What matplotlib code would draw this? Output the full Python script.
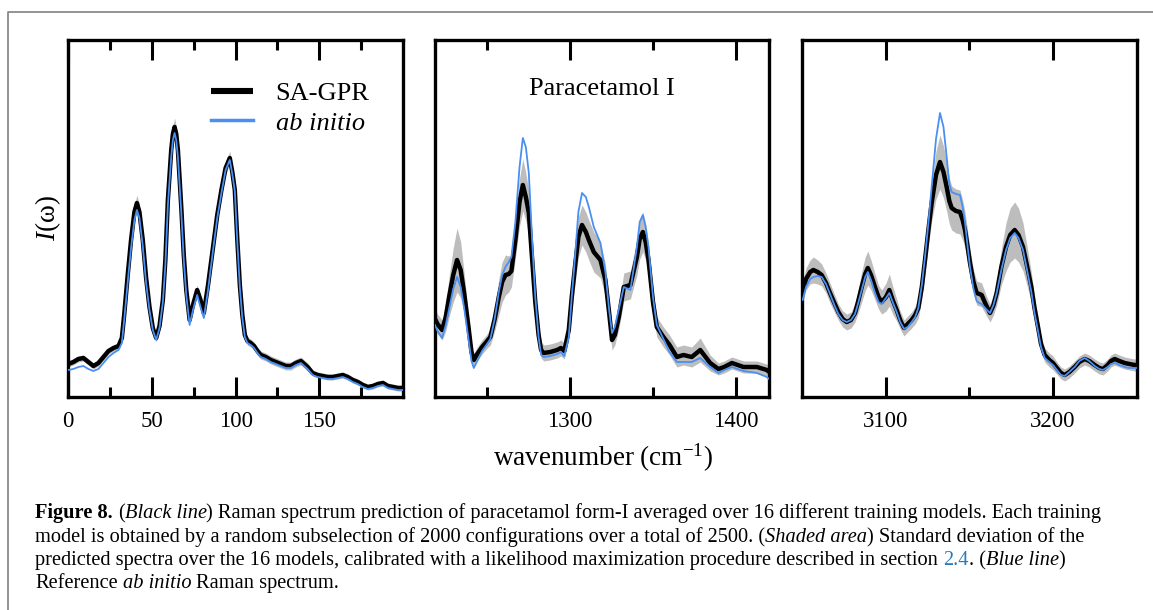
import matplotlib.pyplot as plt
from matplotlib.lines import Line2D
import numpy as np

# spectra, intensity in arbitrary units (axes are 0..357)
# panel 1 : low frequency region
p1_x = [0, 3, 6, 9, 12, 15, 18, 21, 24, 27,
        30, 32, 33.5, 35.5, 37.5, 39.5, 41, 42.5, 44.5, 46.5,
        48.5, 50.5, 52.5, 54.5, 56.5, 58, 59.5, 61.5, 62.5, 63.5, 64.5, 65.5,
        67.5, 69, 70.5, 72.5, 74.5, 77, 79, 81, 83.5, 86.5,
        89, 91.5, 94, 96.5, 98, 99.5, 101, 102.5, 104, 105.5,
        107, 109, 111, 113, 115, 118, 121, 124, 127, 130,
        133, 136, 139, 141, 143, 146, 149, 152, 155, 158,
        161, 164, 167, 170, 173, 176, 179, 182, 185, 188,
        191, 194, 197, 200]
p1_gpr = [33, 35, 38, 39, 35, 31, 34, 40, 46, 49,
          51, 59, 84, 122, 157, 185, 194, 185, 157, 119,
          90, 69, 59, 71, 97, 137, 197, 247, 263, 270, 263, 247,
          190, 142, 107, 77, 92, 107, 97, 84, 112, 150,
          182, 207, 229, 239, 225, 207, 157, 112, 82, 62,
          56, 54, 51, 46, 42, 40, 37, 35, 33, 31,
          31, 34, 36, 33, 30, 24, 22, 21, 20, 20,
          21, 22, 20, 17, 15, 12, 10, 11, 13, 14,
          11, 10, 9, 9]
p1_ref = [27, 28, 30, 31, 28, 26, 28, 34, 40, 44,
          47, 54, 79, 115, 149, 177, 187, 179, 151, 114,
          87, 67, 57, 69, 95, 132, 192, 240, 257, 264, 257, 240,
          185, 137, 102, 72, 87, 102, 90, 79, 107, 147,
          179, 204, 227, 237, 223, 206, 155, 110, 79, 60,
          54, 52, 49, 44, 40, 38, 35, 33, 31, 29,
          29, 32, 34, 31, 28, 22, 20, 19, 18, 18,
          19, 20, 18, 15, 13, 10, 8, 9, 11, 12,
          9, 8, 7, 7]
p1_std = [3, 3, 3, 3, 3, 3, 3, 3, 3, 3,
          3, 4, 4, 5, 6, 7, 8, 7, 5, 4,
          4, 4, 4, 4, 4, 5, 6, 7, 8, 9, 8, 7,
          5, 4, 4, 4, 4, 5, 4, 4, 4, 4,
          4, 5, 6, 7, 6, 5, 4, 4, 4, 4,
          4, 4, 4, 4, 4, 4, 4, 4, 4, 4,
          4, 4, 4, 4, 4, 3, 3, 3, 3, 3,
          3, 3, 3, 3, 3, 3, 3, 3, 3, 3,
          3, 3, 3, 3]

# panel 2 : fingerprint region
p2_x = [1218.5, 1220, 1222.8, 1225, 1227, 1229.5, 1231.8, 1234, 1236, 1238.7,
        1240.5, 1241.9, 1244, 1246.9, 1249.5, 1251.9, 1254.5, 1257, 1259, 1261,
        1263, 1264.6, 1267, 1269.5, 1271.5, 1273.3, 1275.1, 1277, 1279, 1281,
        1282.5, 1284.1, 1288, 1292.2, 1294.5, 1296.5, 1299.2, 1301, 1303.2, 1305,
        1307.2, 1309.5, 1311.3, 1314.3, 1318.3, 1321.3, 1323.5, 1325.3, 1327, 1329.4,
        1332.4, 1336.4, 1340.3, 1342, 1343.9, 1345.6, 1347.3, 1350, 1352.3, 1356.3,
        1360, 1364.4, 1368.4, 1373.4, 1378.5, 1384.5, 1389.5, 1393, 1397.6, 1404.6,
        1412.7, 1418.7, 1420]
p2_gpr = [78, 73, 67, 80, 100, 122, 137, 127, 105, 70,
          45, 37, 43, 50, 55, 60, 78, 100, 115, 122,
          123, 126, 157, 195, 212, 200, 184, 140, 95, 62,
          47, 44, 45, 47, 49, 46, 67, 100, 134, 160,
          172, 165, 157, 145, 137, 117, 85, 57, 62, 80,
          110, 112, 140, 158, 165, 155, 137, 95, 70, 60,
          52, 40, 42, 40, 47, 34, 28, 30, 34, 30,
          30, 27, 25]
p2_ref = [72, 66, 59, 72, 88, 108, 120, 110, 90, 58,
          36, 29, 36, 46, 52, 58, 78, 105, 122, 130,
          135, 140, 175, 230, 259, 250, 224, 160, 100, 60,
          42, 40, 41, 43, 45, 41, 60, 100, 145, 185,
          204, 200, 190, 170, 154, 125, 88, 64, 70, 88,
          110, 107, 150, 175, 182, 170, 150, 100, 72, 58,
          45, 35, 35, 35, 39, 30, 24, 27, 30, 26,
          24, 20, 18]
p2_std = [10, 10, 10, 14, 20, 27, 32, 28, 20, 12,
          8, 7, 7, 7, 7, 8, 12, 18, 20, 20,
          18, 16, 18, 24, 26, 24, 22, 16, 12, 9,
          8, 8, 8, 8, 8, 8, 10, 14, 18, 20,
          20, 20, 20, 20, 18, 16, 12, 10, 10, 12,
          14, 14, 18, 20, 20, 18, 16, 12, 10, 10,
          10, 10, 10, 10, 12, 8, 6, 6, 6, 6,
          6, 6, 6]

# panel 3 : C-H / N-H stretching region
p3_x = [3050, 3052, 3054.5, 3056.4, 3059, 3061.4, 3064, 3066.4, 3069, 3071.4,
        3074, 3076.4, 3079, 3081.4, 3083.5, 3085.4, 3087.5, 3089.1, 3091, 3093.4,
        3095.5, 3097.4, 3100, 3102, 3104, 3106.4, 3108.5, 3110.8, 3113, 3115.4,
        3117.5, 3119.4, 3121.5, 3123.4, 3125.5, 3127.4, 3130, 3132.4, 3134.5, 3136.4,
        3138, 3139.4, 3142, 3144.4, 3146, 3147.4, 3149, 3150.4, 3152.5, 3154.4,
        3156, 3157.4, 3160, 3162.4, 3164.5, 3166.4, 3169.2, 3172, 3174.5, 3177.2,
        3179.5, 3182.2, 3184.5, 3187.2, 3189, 3191.2, 3193, 3195.2, 3198, 3200.2,
        3203, 3205, 3207.2, 3210, 3213.2, 3216, 3219.2, 3222, 3225.2, 3228,
        3230.2, 3233, 3235, 3237.2, 3240, 3243.2, 3246, 3249.2, 3250.6]
p3_gpr = [105, 118, 125, 127, 125, 122, 114, 104, 94, 85,
          78, 75, 77, 84, 97, 110, 123, 129, 122, 110,
          100, 95, 100, 107, 97, 87, 77, 69, 73, 77,
          82, 89, 110, 137, 168, 194, 222, 235, 225, 210,
          196, 189, 186, 185, 177, 167, 150, 134, 115, 104,
          103, 102, 92, 84, 92, 104, 130, 150, 162, 167,
          162, 150, 132, 110, 90, 70, 53, 42, 37, 34,
          28, 24, 22, 25, 30, 35, 38, 36, 32, 29,
          28, 32, 36, 38, 36, 34, 33, 32, 32]
p3_ref = [97, 110, 118, 120, 121, 120, 113, 103, 92, 83,
          77, 75, 77, 83, 95, 107, 120, 125, 117, 104,
          95, 93, 99, 104, 95, 85, 75, 68, 70, 75,
          80, 89, 112, 140, 175, 210, 258, 284, 270, 240,
          213, 205, 203, 202, 190, 175, 150, 130, 108, 96,
          94, 93, 88, 84, 92, 104, 127, 147, 159, 164,
          159, 147, 128, 105, 85, 66, 50, 39, 35, 32,
          26, 22, 21, 25, 30, 36, 39, 36, 31, 28,
          27, 30, 33, 34, 32, 30, 29, 29, 29]
p3_std = [10, 11, 12, 13, 12, 11, 10, 10, 9, 8,
          8, 8, 8, 9, 12, 15, 17, 17, 15, 13,
          12, 12, 14, 16, 14, 11, 9, 8, 8, 8,
          9, 10, 12, 14, 16, 18, 24, 27, 26, 24,
          23, 22, 22, 22, 20, 18, 16, 14, 12, 12,
          12, 12, 10, 9, 10, 12, 18, 24, 27, 28,
          27, 24, 20, 15, 12, 10, 8, 7, 7, 7,
          6, 6, 6, 6, 6, 6, 6, 6, 6, 6,
          6, 6, 6, 6, 6, 6, 6, 6, 6]

xlims = [(0, 200), (1218.5, 1420), (3049.6, 3250.6)]
major_ticks = [[0, 50, 100, 150], [1300, 1400], [3100, 3200]]
minor_ticks = [[25, 75, 125, 175], [1250, 1350], [3150]]

caption = [
    [("Figure 8.", "bold"), (" (", "normal"), ("Black line", "italic"),
     (") Raman spectrum prediction of paracetamol form-I averaged over 16 different training models. Each training", "normal")],
    [("model is obtained by a random subselection of 2000 configurations over a total of 2500. (", "normal"),
     ("Shaded area", "italic"), (") Standard deviation of the", "normal")],
    [("predicted spectra over the 16 models, calibrated with a likelihood maximization procedure described in section ", "normal"),
     ("2.4", "link"), (". (", "normal"), ("Blue line", "italic"), (")", "normal")],
    [("Reference ", "normal"), ("ab initio", "italic"), (" Raman spectrum.", "normal")],
]

plt.rcParams['font.family'] = ['Liberation Serif', 'DejaVu Serif']
plt.rcParams['mathtext.fontset'] = 'custom'
plt.rcParams['mathtext.rm'] = 'Liberation Serif'
plt.rcParams['mathtext.it'] = 'Liberation Serif:italic'
plt.rcParams['mathtext.bf'] = 'Liberation Serif:bold'

W, H = 1153, 610
fig = plt.figure(figsize=(W / 100, H / 100), dpi=100)

# axes boxes in pixels (left, right)
boxes = [(68.3, 403), (435, 769), (802, 1137)]
top_px, bot_px = 40, 397

panels = [(p1_x, p1_gpr, p1_ref, p1_std),
          (p2_x, p2_gpr, p2_ref, p2_std),
          (p3_x, p3_gpr, p3_ref, p3_std)]

axes = []
for i, (x, gpr, ref, std) in enumerate(panels):
    l, r = boxes[i]
    ax = fig.add_axes([l / W, 1 - bot_px / H, (r - l) / W, (bot_px - top_px) / H])
    x = np.array(x)
    gpr = np.array(gpr, dtype=float)
    std = np.array(std, dtype=float)
    ax.fill_between(x, gpr - std, gpr + std, color='#bdbdbd', lw=0, zorder=1)
    lg, = ax.plot(x, gpr, color='black', lw=3.2, zorder=2, solid_capstyle='butt')
    lr, = ax.plot(x, ref, color='#4a8ff2', lw=1.3, zorder=3)
    ax.set_xlim(*xlims[i])
    ax.set_ylim(0, bot_px - top_px)
    ax.set_xticks(major_ticks[i])
    ax.set_xticks(minor_ticks[i], minor=True)
    ax.set_yticks([])
    ax.tick_params(axis='x', which='both', direction='in', top=True, bottom=True,
                   width=2.2, labelsize=16.5, pad=10)
    ax.tick_params(axis='x', which='major', length=14.5)
    ax.tick_params(axis='x', which='minor', length=7.5)
    for s in ax.spines.values():
        s.set_linewidth(2.4)
    axes.append(ax)
    if i == 0:
        handles = [lg, lr]

leg = axes[0].legend(handles, ['SA-GPR', 'ab initio'], loc='upper left',
                     bbox_to_anchor=(0.426, 0.884), frameon=False, fontsize=19,
                     handlelength=1.6, handletextpad=0.85, labelspacing=0.24,
                     borderpad=0, borderaxespad=0)
leg.get_texts()[1].set_fontstyle('italic')
for h in leg.get_lines():
    h.set_linewidth(h.get_linewidth() + 1.2)

axes[1].text(0.5, 0.862, 'Paracetamol I', transform=axes[1].transAxes,
             ha='center', va='center', fontsize=19)

fig.text(602.5 / W, 1 - 466 / H, 'wavenumber (cm$^{-1}$)', ha='center',
         va='baseline', fontsize=19.5)
fig.text(48 / W, 1 - 218 / H, '$I$(ω)', rotation=90, ha='center', va='center',
         fontsize=19.5)

# page frame
fig.add_artist(Line2D([8 / W, 8 / W, 1], [0, 1 - 12 / H, 1 - 12 / H],
                      color='#8a8a8a', lw=1.3))

# caption, laid out piece by piece
renderer = fig.canvas.get_renderer()
cap_size = 14.7
t1 = fig.text(0, 0, 'xx', fontsize=cap_size)
t2 = fig.text(0, 0, 'x x', fontsize=cap_size)
space_w = (t2.get_window_extent(renderer).width - t1.get_window_extent(renderer).width) / W
t1.remove()
t2.remove()

baselines = [518, 542, 565, 588]
for y_px, segs in zip(baselines, caption):
    xpos = 35 / W
    for txt, style in segs:
        lead = len(txt) - len(txt.lstrip(' '))
        trail = len(txt) - len(txt.rstrip(' '))
        xpos += lead * space_w
        body = txt.strip()
        if body:
            kw = dict(fontsize=cap_size, ha='left', va='baseline')
            if style == 'bold':
                kw['fontweight'] = 'bold'
            elif style == 'italic':
                kw['fontstyle'] = 'italic'
            elif style == 'link':
                kw['color'] = '#2b7bba'
            t = fig.text(xpos, 1 - y_px / H, body, **kw)
            xpos += t.get_window_extent(renderer).width / W
        xpos += trail * space_w

fig.savefig('out.png', dpi=100)
